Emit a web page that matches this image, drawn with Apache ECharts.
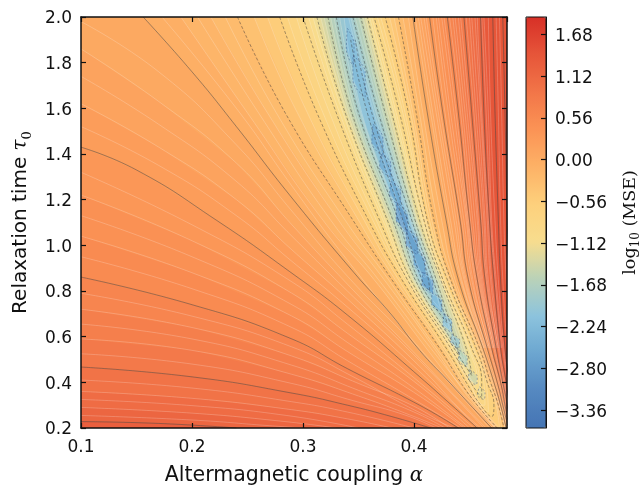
<!DOCTYPE html>
<html>
<head>
<meta charset="utf-8">
<style>html,body{margin:0;padding:0;background:#fff}#main{width:641px;height:487px}</style>
<script src="https://cdn.jsdelivr.net/npm/echarts@6/dist/echarts.min.js"></script>
</head>
<body>
<div id="main"></div>
<script>
// tau values that the plain alpha lists below refer to
var tauRows = [2, 1.58, 1.11, 0.85, 0.55, 0.4, 0.3, 0.2]
var cbTicks = [-3.36, -2.8, -2.24, -1.68, -1.12, -0.56, 0, 0.56, 1.12, 1.68]

// contour levels of log10(MSE), painted from high to low
var levels = [1.9, 1.8, 1.7, 1.6, 1.5, 1.4, 1.3, 1.2, 1.1, 1, 0.9, 0.8, 0.7, 0.6, 0.5, 0.4, 0.3, 0.2, 0.1, 0,
  -0.1, -0.2, -0.3, -0.4, -0.5, -0.6, -0.7, -0.8, -0.9, -1, -1.1, -1.2, -1.3, -1.4, -1.5, -1.6, -1.7, -1.8, -1.9, -2, -2.1, -2.3]

// left side of the valley, one curve per level (alpha, or [alpha, tau] where it leaves the rows)
var leftCurves = [null, null, null, null, null, null, null,
  [[.1, .228], [.17, .22], [.24, .2]],
  [[.1, .29], [.2, .265], [.28, .23], [.33, .2]],
  [[.1, .36], [.2, .33], [.29, .28], [.34, .24], [.38, .2]],
  [[.1, .467], [.2, .424], [.29, .353], [.34, .3], [.38, .25], [.415, .2]],
  [[.1, .59], [.2, .54], [.29, .435], [.35, .34], [.4, .25], [.425, .2]],
  [[.1, .72], [.2, .64], [.29, .515], [.35, .395], [.4, .295], [.432, .2]],
  [[.1, .861], [.2, .74], [.288, .594], [.34, .46], [.405, .3], [.44, .2]],
  [[.1, 1.04], [.2, .88], [.29, .69], [.34, .535], [.405, .34], [.445, .2]],
  [[.1, 1.22], [.2, 1.02], [.29, .79], [.34, .615], [.405, .385], [.45, .2]],
  [[.1, 1.43], [.15, 1.33], [.222, 1.11], [.288, .885], [.34, .695], [.405, .425], [.43, .317], [.457, .2]],
  [[.1, 1.62], [.17, 1.43], [.24, 1.2], [.29, .98], [.34, .765], [.405, .47], [.44, .29], [.46, .2]],
  [[.1, 1.86], [.17, 1.63], [.24, 1.36], [.29, 1.09], [.34, .83], [.405, .505], [.44, .325], [.465, .2]],
  [[.156, 2], [.2, 1.76], [.24, 1.52], [.288, 1.22], [.346, .88], [.379, .7], [.405, .54], [.43, .41], [.449, .31], [.47, .2]],
  [.19, .25, .318, .364, .411, .435, .453, .473],
  [.217, .268, .332, .373, .418, .439, .455, .474],
  [.241, .284, .345, .38, .423, .442, .457, .475],
  [.256, .295, .35, .383, .425, .444, .458, .476],
  [.268, .304, .355, .386, .427, .446, .459, .477],
  [.279, .3126, .359, .389, .429, .447, .46, [.47, .25]],
  [.286, .318, .363, .391, .431, .449, .461, [.467, .27]],
  [.294, .324, .366, .393, .432, .45, .462, [.464, .3]],
  [.3, .33, .369, .394, .433, .451, [.461, .33]],
  [.305, .333, .372, .395, .434, .452, [.458, .36]],
  [.309, .336, .374, .396, .435, .453, [.455, .39]],
  [.3125, .338, .376, .397, .436, [.452, .43]],
  [.316, .34, .378, .399, .437, [.449, .46]],
  [.319, .342, .38, .4, .438, [.446, .49]],
  [.3225, .344, .381, .401, .438, [.441, .52]],
  [.325, .346, .383, .402, [.437, .58]],
  [.328, .348, .385, .403, [.433, .62]],
  [.33, .35, .386, .404, [.43, .66]],
  [.333, .352, .387, .405, [.424, .72]],
  [.337, .353, .388, .406, [.418, .78]],
  [[.343, 1.9], [.358, 1.58], [.39, 1.11], [.407, .85], [.414, .8]],
  [[.366, 1.47], [.383, 1.22], [.39, 1.1], [.406, .88], [.41, .86]]
]

// right side of the valley, same levels, top to bottom
var rightCurves = [
  [.484, .486, .488, .489, .49, .49, .49, .49],
  [.48, .482, .484, .486, .489, .49, .49, .49],
  [.477, .479, .481, .483, .486, .489, .49, .49],
  [.474, .476, .478, .48, .484, .487, .49, .49],
  [.471, .473, .476, .478, .482, .486, .489, .49],
  [.467, .469, .473, .476, .481, .485, .488, .49],
  [.463, .467, .47, .474, .48, .484, .486, .49],
  [.46, .463, .468, .472, .478, .483, .486, .489],
  [.455, .46, .466, .469, .477, .482, .485, .488],
  [.45, .456, .463, .466, .476, .481, .485, .488],
  [.445, .452, .46, .464, .474, .48, .484, .486],
  [.44, .448, .457, .461, .473, .48, .484, .486],
  [.435, .444, .453, .459, .472, .479, .483, .486],
  [.43, .44, .45, .457, .47, .478, .482, .486],
  [.425, .436, .448, .455, .469, .477, .482, .485],
  [.42, .431, .445, .452, .468, .476, .481, .485],
  [.414, .426, .4415, .449, .466, .475, .48, .485],
  [.409, .422, .438, .446, .465, .474, .48, .484],
  [.404, .417, .433, .443, .463, .473, .479, .484],
  [.399, .412, .429, .44, .462, .472, .478, .483],
  [.395, .408, .425, .437, .461, .471, .477, .482],
  [.39, .405, .421, .435, .46, .47, .477, .482],
  [.386, .402, .418, .433, .459, .469, .476, .481],
  [.382, .399, .416, .432, .458, .468, .475, .479],
  [.378, .397, .414, .431, .457, .467, .474, [.477, .2]],
  [.374, .395, .412, .43, .456, .466, .472, [.47, .25]],
  [.37, .392, .411, .428, .454, .465, [.467, .27]],
  [.367, .39, .41, .427, .453, .463, [.464, .3]],
  [.364, .387, .409, .426, .452, .461, [.461, .33]],
  [.362, .384, .408, .425, .45, .459, [.458, .36]],
  [.36, .382, .407, .424, .449, .457, [.455, .39]],
  [.358, .38, .405, .424, .447, [.452, .43]],
  [.356, .378, .403, .423, .445, [.449, .46]],
  [.354, .376, .402, .421, .443, [.446, .49]],
  [.352, .374, .401, .42, [.441, .52]],
  [.35, .372, .4, .419, [.437, .58]],
  [.347, .37, .399, .418, [.433, .62]],
  [.345, .368, .398, .417, [.43, .66]],
  [.343, .366, .397, .416, [.424, .72]],
  [.341, .364, .396, .415, [.418, .78]],
  [[.347, 1.9], [.362, 1.58], [.394, 1.11], [.413, .85], [.414, .8]],
  [[.368, 1.47], [.387, 1.22], [.395, 1.08], [.411, .88], [.41, .86]]
]

// thin white contours that sit between the levels above, left of the valley
var whiteLeft = [
  [[.1, .255], [.2, .235], [.27, .21], [.3, .2]],
  [[.1, .325], [.2, .298], [.285, .255], [.35, .2]],
  [[.1, .41], [.2, .375], [.29, .315], [.34, .27], [.4, .2]],
  [[.1, .525], [.2, .48], [.29, .395], [.345, .32], [.39, .26], [.42, .2]],
  [[.1, .655], [.2, .59], [.29, .475], [.35, .365], [.4, .27], [.428, .2]],
  [[.1, .79], [.2, .69], [.29, .555], [.345, .425], [.4, .28], [.436, .2]],
  [[.1, .95], [.2, .81], [.29, .64], [.34, .495], [.4, .325], [.442, .2]],
  [[.1, 1.13], [.2, .95], [.29, .74], [.34, .575], [.4, .375], [.447, .2]],
  [[.1, 1.32], [.2, 1.09], [.29, .84], [.34, .655], [.4, .42], [.454, .2]],
  [[.1, 1.52], [.17, 1.35], [.24, 1.13], [.29, .93], [.34, .73], [.4, .47], [.458, .2]],
  [[.1, 1.74], [.17, 1.53], [.24, 1.28], [.29, 1.04], [.34, .8], [.4, .52], [.463, .2]],
  [[.1, 1.98], [.17, 1.76], [.24, 1.44], [.29, 1.15], [.34, .865], [.4, .565], [.468, .2]],
  [[.173, 2], [.24, 1.6], [.29, 1.26], [.34, .935], [.405, .55], [.471, .2]],
  [[.205, 2], [.26, 1.58], [.325, 1.11], [.368, .85], [.415, .55], [.473, .2]],
  [[.23, 2], [.276, 1.58], [.338, 1.11], [.377, .85], [.42, .55], [.474, .2]]
]

// the same, right of the valley, alpha on the first rows of tauRows
var whiteRight = [
  [.401, .415, .431, .442, .463],
  [.406, .42, .436, .445, .464],
  [.411, .424, .44, .447, .466],
  [.417, .428, .443, .45, .467],
  [.422, .433, .447, .453, .468],
  [.427, .438, .449, .456, .47],
  [.432, .442, .451, .458, .471],
  [.437, .446, .455, .46, .472],
  [.442, .45, .458, .462, .474],
  [.447, .454, .461, .465, .475],
  [.452, .458, .464, .467, .476],
  [.457, .461, .467, .47, .478],
  [.461, .465, .469, .473, .479]
]

// small closed loops along the bottom of the valley
var loopLevels = [-2.2, -2.2, -2.4, -2.4, -2.5, -2.75, -2.65, -2.5, -2.6, -2.2, -2, -1.85, -1.6, -1.4, -1.2]
var loops = [
  [[.34, 1.95], [.346, 1.88], [.345, 1.79], [.339, 1.86], [.34, 1.95]],
  [[.345, 1.83], [.356, 1.76], [.356, 1.65], [.345, 1.72], [.345, 1.83]],
  [[.363, 1.53], [.372, 1.47], [.372, 1.39], [.362, 1.45], [.363, 1.53]],
  [[.37, 1.4], [.379, 1.36], [.379, 1.3], [.369, 1.34], [.37, 1.4]],
  [[.379, 1.28], [.388, 1.24], [.387, 1.18], [.378, 1.22], [.379, 1.28]],
  [[.384, 1.19], [.394, 1.13], [.394, 1.05], [.384, 1.11], [.384, 1.19]],
  [[.393, 1.07], [.403, 1.03], [.403, .96], [.393, 1], [.393, 1.07]],
  [[.4, .98], [.41, .94], [.41, .875], [.4, .915], [.4, .98]],
  [[.408, .88], [.417, .845], [.417, .79], [.407, .825], [.408, .88]],
  [[.416, .79], [.425, .76], [.425, .71], [.416, .74], [.416, .79]],
  [[.427, .7], [.434, .67], [.434, .62], [.426, .65], [.427, .7]],
  [[.434, .61], [.441, .585], [.44, .55], [.433, .575], [.434, .61]],
  [[.441, .54], [.448, .51], [.447, .47], [.44, .5], [.441, .54]],
  [[.45, .455], [.457, .425], [.456, .39], [.449, .415], [.45, .455]],
  [[.459, .38], [.464, .355], [.463, .325], [.457, .345], [.459, .38]]
]

var alphaMin = 0.1
var alphaMax = 0.4838
var tauMin = 0.2
var tauMax = 2
var cbMin = -3.6
var cbMax = 1.915
var edgeTone = 1.4 // the far right edge is paler than its contour levels
var fontName = 'DejaVu Sans'
var mathFont = 'DejaVu Serif'

function onRows (list) {
  return list.map(function (v, i) {
    return Array.isArray(v) ? v : [v, tauRows[i]]
  })
}

var polygons = []
var polyTone = []
var whiteLine = []
var solidLine = []
var dashLine = []

levels.forEach(function (level, i) {
  var left = leftCurves[i] ? onRows(leftCurves[i]) : [[alphaMin, tauMin]]
  var right = onRows(rightCurves[i])
  var pts = left.concat(right.slice().reverse())
  if (left[0][0] <= alphaMin || left[0][1] === tauMax) {
    pts.unshift([alphaMin, tauMax])
  }
  polygons.push(pts)
  polyTone.push(Math.min(level - 0.05, edgeTone))

  var tenths = Math.round(level * 10)
  var target = tenths % 3 !== 0 ? whiteLine : (level < 0 ? dashLine : solidLine)
  var closes = left[left.length - 1][1] > tauMin
  if (leftCurves[i] && closes) {
    target.push.apply(target, left.concat(right.slice().reverse().slice(1)))
  } else {
    if (leftCurves[i]) target.push.apply(target, left)
    target.push(['-', '-'])
    target.push.apply(target, right)
  }
  target.push(['-', '-'])
})

whiteLeft.forEach(function (curve) {
  whiteLine.push.apply(whiteLine, curve)
  whiteLine.push(['-', '-'])
})
whiteRight.forEach(function (curve) {
  whiteLine.push.apply(whiteLine, onRows(curve))
  whiteLine.push(['-', '-'])
})

var loopLine = []
loops.forEach(function (loop, i) {
  polygons.push(loop)
  polyTone.push(loopLevels[i])
  loopLine.push.apply(loopLine, loop)
  loopLine.push(['-', '-'])
})

var bandData = polyTone.map(function (tone, i) {
  return [tone, i]
})

var axisLine = { show: true, onZero: false, lineStyle: { color: '#111', width: 1.5 } }
var tickIn = { show: true, inside: true, length: 5, lineStyle: { color: '#111', width: 1.2 } }
var tickRich = { t: { color: '#111', fontSize: 17, fontFamily: fontName, padding: [4, 0, 0, 0] } }

var option = {
  animation: false,
  backgroundColor: '#fff',
  grid: [
    { left: 81, top: 17, width: 426, height: 411, outerBoundsMode: 'none', show: true, backgroundColor: '#e25a42', borderWidth: 0 },
    { left: 526, top: 17, width: 20, height: 411, outerBoundsMode: 'none', show: true, backgroundColor: 'transparent', borderColor: '#111', borderWidth: 1, z: 6 }
  ],
  xAxis: [
    {
      type: 'value',
      min: alphaMin,
      max: alphaMax,
      interval: 0.1,
      gridIndex: 0,
      zlevel: 1,
      axisLine: axisLine,
      axisTick: tickIn,
      splitLine: { show: false },
      axisLabel: {
        color: '#111', fontSize: 17, fontFamily: fontName, margin: 11,
        showMinLabel: true,
        showMaxLabel: false,
        alignMinLabel: 'center',
        formatter: function (v) { return v.toFixed(1) }
      },
      name: 'Altermagnetic coupling {m|α}',
      nameLocation: 'middle',
      nameGap: 37,
      nameTextStyle: {
        color: '#111', fontSize: 20.5, fontFamily: fontName,
        rich: { m: { fontSize: 20, fontStyle: 'italic', fontFamily: mathFont, color: '#111' } }
      }
    },
    {
      type: 'value', min: alphaMin, max: alphaMax, interval: 0.1, gridIndex: 0, position: 'top', zlevel: 1,
      axisLine: axisLine, axisTick: tickIn, axisLabel: { show: false }, splitLine: { show: false }
    },
    { type: 'value', gridIndex: 1, show: false, min: 0, max: 1 }
  ],
  yAxis: [
    {
      type: 'value',
      min: tauMin,
      max: tauMax,
      interval: 0.2,
      gridIndex: 0,
      zlevel: 1,
      axisLine: axisLine,
      axisTick: tickIn,
      splitLine: { show: false },
      axisLabel: {
        margin: 9,
        showMinLabel: true,
        showMaxLabel: true,
        verticalAlignMinLabel: 'middle',
        verticalAlignMaxLabel: 'middle',
        rich: tickRich,
        formatter: function (v) { return '{t|' + v.toFixed(1) + '}' }
      },
      name: 'Relaxation time {m|τ}{s|0}',
      nameLocation: 'middle',
      nameGap: 47,
      nameTextStyle: {
        color: '#111', fontSize: 20, fontFamily: fontName,
        rich: {
          m: { fontSize: 20, fontStyle: 'italic', fontFamily: mathFont, color: '#111' },
          s: { fontSize: 13, fontFamily: mathFont, color: '#111', verticalAlign: 'bottom', lineHeight: 27 }
        }
      }
    },
    {
      type: 'value', min: tauMin, max: tauMax, interval: 0.2, gridIndex: 0, position: 'right', zlevel: 1,
      axisLine: axisLine, axisTick: tickIn, axisLabel: { show: false }, splitLine: { show: false }
    },
    {
      type: 'value',
      min: cbMin,
      max: cbMax,
      gridIndex: 1,
      position: 'right',
      zlevel: 1,
      axisLine: { show: true, onZero: false, lineStyle: { color: '#111', width: 1 } },
      axisTick: { show: true, inside: true, length: 5, customValues: cbTicks, lineStyle: { color: '#111', width: 1.2 } },
      splitLine: { show: false },
      axisLabel: {
        margin: 9,
        customValues: cbTicks,
        rich: tickRich,
        formatter: function (v) {
          return '{t|' + v.toFixed(2).replace('-', '\u2212') + '}'
        }
      },
      name: 'log{s|10}{m| (MSE)}',
      nameLocation: 'middle',
      nameGap: 72,
      nameTextStyle: {
        color: '#111', fontSize: 17.5, fontFamily: mathFont,
        rich: {
          m: { fontSize: 17.5, fontFamily: mathFont, color: '#111' },
          s: { fontSize: 12, fontFamily: mathFont, color: '#111', verticalAlign: 'bottom', lineHeight: 24 }
        }
      }
    }
  ],
  visualMap: {
    type: 'continuous',
    seriesIndex: 0,
    dimension: 0,
    min: cbMin,
    max: cbMax,
    left: 526,
    top: 17,
    padding: 0,
    itemWidth: 20,
    itemHeight: 411,
    text: ['', ''],
    showLabel: false,
    calculable: false,
    hoverLink: false,
    realtime: false,
    z: 1,
    inRange: {
      color: ['#4575b4', '#5588c0', '#6ca6d0', '#8cc3dd', '#bad2b8', '#f8dd8e', '#fdd07c', '#fdb166', '#fb9355', '#f27548', '#e65539', '#d73027']
    }
  },
  series: [
    {
      type: 'custom',
      xAxisIndex: 0,
      yAxisIndex: 0,
      clip: true,
      silent: true,
      encode: { x: 1, y: 0 },
      data: bandData,
      renderItem: function (params, api) {
        var pts = polygons[api.value(1)].map(function (p) {
          return api.coord(p)
        })
        return {
          type: 'polygon',
          shape: { points: pts },
          style: { fill: api.visual('color') }
        }
      }
    },
    {
      type: 'line', xAxisIndex: 0, yAxisIndex: 0, data: whiteLine, smooth: 0.5, showSymbol: false, silent: true, clip: true, z: 3,
      lineStyle: { color: 'rgba(255,255,255,0.3)', width: 0.7 }
    },
    {
      type: 'line', xAxisIndex: 0, yAxisIndex: 0, data: solidLine, smooth: 0.5, showSymbol: false, silent: true, clip: true, z: 4,
      lineStyle: { color: 'rgba(70,70,70,0.5)', width: 1 }
    },
    {
      type: 'line', xAxisIndex: 0, yAxisIndex: 0, data: dashLine, smooth: 0.5, showSymbol: false, silent: true, clip: true, z: 4,
      lineStyle: { color: 'rgba(60,60,60,0.6)', width: 0.8, type: [3, 2] }
    },
    {
      type: 'line', xAxisIndex: 0, yAxisIndex: 0, data: loopLine, smooth: 0.4, showSymbol: false, silent: true, clip: true, z: 4,
      lineStyle: { color: 'rgba(55,80,130,0.6)', width: 0.8, type: [2, 2] }
    }
  ]
}

var myChart = echarts.init(document.getElementById('main'))
myChart.setOption(option)
</script>
</body>
</html>
